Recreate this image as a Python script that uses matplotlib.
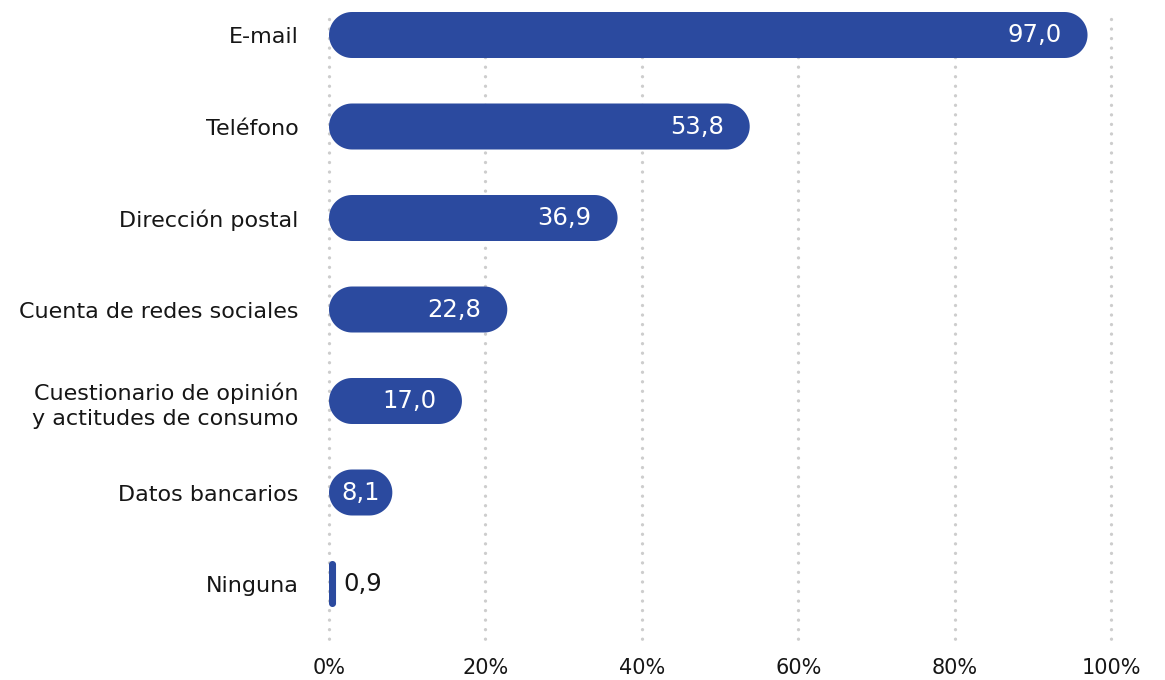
import numpy as np
import matplotlib
matplotlib.use("Agg")
import matplotlib.pyplot as plt
from matplotlib.patches import Polygon

categorias = ["E-mail", "Teléfono", "Dirección postal", "Cuenta de redes sociales",
              "Cuestionario de opinión\ny actitudes de consumo", "Datos bancarios", "Ninguna"]
valores = [97.0, 53.8, 36.9, 22.8, 17.0, 8.1, 0.9]
ticks = [0, 20, 40, 60, 80, 100]

AZUL = "#2b4a9f"
GRIS = "#cdcdcd"
TEXTO = "#161616"

plt.rcParams["font.family"] = ["DejaVu Sans"]

W, H = 1165, 680
fig = plt.figure(figsize=(W / 100, H / 100), dpi=100)
# axes in pixel terms: x 329..1111, y 0..650
ax = fig.add_axes([329 / W, 1 - 650 / H, 782 / W, 650 / H])

paso = 91.5           # px between bars
x_px = 100 / 782      # data units per px along x
y_px = 1 / paso       # data units per px along y
ax.set_xlim(0, 100)
ax.set_ylim(615 / paso, -35 / paso)

# dotted grid
rejilla = ax.vlines(ticks, (19 - 35) / paso, (645 - 35) / paso, colors=GRIS,
                    linewidth=2.4, linestyles=[(0, (0.01, 2.85))], zorder=1)
rejilla.set_capstyle("round")
rejilla.set_clip_on(False)


def capsula(x0, x1, yc, alto_px):
    # rounded-end bar, ends as true circular arcs in pixel space
    ancho_px = (x1 - x0) / x_px
    r = min(alto_px / 2, ancho_px / 2)
    hy = alto_px / 2 - r
    t = np.linspace(-np.pi / 2, np.pi / 2, 40)
    s = np.sign(np.sin(t))
    der = [(x1 - r * x_px + r * np.cos(a) * x_px, yc + (hy * k + r * np.sin(a)) * y_px)
           for a, k in zip(t, s)]
    izq = [(x0 + r * x_px - r * np.cos(a) * x_px, yc - (hy * k + r * np.sin(a)) * y_px)
           for a, k in zip(t, s)]
    return der + izq


y = np.arange(len(valores))
for i, v in enumerate(valores):
    ancho_px = v / x_px
    ax.add_patch(Polygon(capsula(0, v, i, 46), closed=True, facecolor=AZUL,
                         edgecolor="none", zorder=2))
    txt = f"{v:.1f}".replace(".", ",")
    if ancho_px < 20:
        ax.text(v + 7 * x_px, i, txt, ha="left", va="center", fontsize=17.5,
                color=TEXTO, zorder=3)
    elif ancho_px < 80:
        ax.text(v / 2, i, txt, ha="center", va="center", fontsize=17.5,
                color="white", zorder=3)
    else:
        ax.text(v - 26 * x_px, i, txt, ha="right", va="center", fontsize=17.5,
                color="white", zorder=3)

ax.set_yticks(y)
ax.set_yticklabels(categorias, fontsize=16, color=TEXTO, linespacing=1.3)
ax.set_xticks(ticks)
ax.set_xticklabels([f"{t}%" for t in ticks], fontsize=15, color=TEXTO)
ax.tick_params(axis="y", length=0, pad=22)
ax.tick_params(axis="x", length=0, pad=6)
for s in ax.spines.values():
    s.set_visible(False)

fig.savefig("out.png", dpi=100, facecolor="white")
